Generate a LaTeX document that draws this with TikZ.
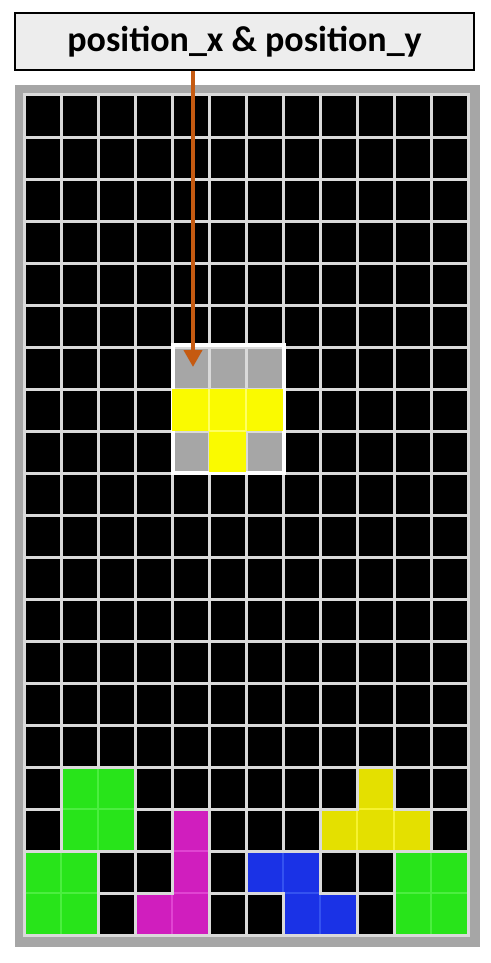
\documentclass[tikz,border=0pt]{standalone}
\usepackage{fontspec}
\setmainfont{Carlito}
\usetikzlibrary{arrows.meta}
\definecolor{framegray}{HTML}{A6A6A6}
\definecolor{gridline}{HTML}{DADADA}
\definecolor{labelfill}{HTML}{EDEDED}
\definecolor{arroworange}{HTML}{C55A11}
\definecolor{pgreen}{HTML}{28E41A}
\definecolor{pgreenl}{HTML}{4CEE40}
\definecolor{pmag}{HTML}{D01EBE}
\definecolor{pmagl}{HTML}{E044D2}
\definecolor{pblue}{HTML}{1A32E6}
\definecolor{pbluel}{HTML}{3452F0}
\definecolor{pyel}{HTML}{E4E000}
\definecolor{pyell}{HTML}{F6F230}
\definecolor{tyel}{HTML}{FAFA00}
\definecolor{tyell}{HTML}{FFFF60}
\tikzset{
  gridln/.style={draw=gridline, line width=3pt},
  labelbox/.style={draw=black, line width=1.5pt, fill=labelfill, minimum width=459pt, minimum height=57pt, inner sep=0pt, font=\fontsize{36}{43}\selectfont\bfseries},
  pointer/.style={draw=arroworange, line width=4pt, -{Triangle[width=18pt,length=17pt]}},
  selframe/.style={draw=white, line width=4pt},
  inline/.style={line width=1.2pt},
}
% cell interior fill: col, row, colour
\newcommand\pcell[3]{\fill[#3] ({24+37*#1+1.5},{95+42*#2+1.5}) rectangle ({24+37*#1+35.5},{95+42*#2+40.5});}
% vertical internal edge right of cell (col,row): main, light
\newcommand\pedgev[4]{\fill[#3] ({24+37*#1+35},{95+42*#2+1.5}) rectangle ({24+37*#1+39},{95+42*#2+40.5});
  \draw[#4, inline] ({24+37*(#1+1)},{95+42*#2+1.5}) -- ({24+37*(#1+1)},{95+42*#2+40.5});}
% horizontal internal edge below cell (col,row): main, light
\newcommand\pedgeh[4]{\fill[#3] ({24+37*#1+1.5},{95+42*#2+40}) rectangle ({24+37*#1+35.5},{95+42*#2+44});
  \draw[#4, inline] ({24+37*#1+1.5},{95+42*(#2+1)}) -- ({24+37*#1+35.5},{95+42*(#2+1)});}
% 2x2 block with top-left cell (col,row): main, light
\newcommand\pblock[4]{\fill[#3] ({24+37*#1+1.5},{95+42*#2+1.5}) rectangle ({24+37*#1+72.5},{95+42*#2+82.5});
  \draw[#4, inline] ({24+37*(#1+1)},{95+42*#2+1.5}) -- ({24+37*(#1+1)},{95+42*#2+82.5});
  \draw[#4, inline] ({24+37*#1+1.5},{95+42*(#2+1)}) -- ({24+37*#1+72.5},{95+42*(#2+1)});}
\begin{document}
\begin{tikzpicture}[x=1pt, y=-1pt]
\useasboundingbox (0,0) rectangle (490,963);
% outer gray frame and black board
\fill[framegray] (15,85) rectangle (480,947);
\fill[black] (23,94) rectangle (469,936);
\foreach \i in {0,...,12} \draw[gridln] ({24+37*\i},93.5) -- ({24+37*\i},936.5);
\foreach \j in {0,...,20} \draw[gridln] (22.5,{95+42*\j}) -- (469.5,{95+42*\j});
% falling piece area
\foreach \c/\r in {4/6,5/6,6/6,4/8,6/8} {\pcell{\c}{\r}{framegray}}
\draw[selframe] (172.5,345) rectangle (283.5,473);
\fill[tyel] (172,389) rectangle (283,431);
\fill[tyel] (209,431) rectangle (246,472);
\draw[tyell, inline] (209,389) -- (209,431);
\draw[tyell, inline] (246,389) -- (246,431);
\draw[tyell, inline] (209,431) -- (246,431);
% bottom pieces
\pblock{1}{16}{pgreen}{pgreenl}
\pblock{0}{18}{pgreen}{pgreenl}
\pblock{10}{18}{pgreen}{pgreenl}
\foreach \c/\r in {4/17,4/18,4/19,3/19} {\pcell{\c}{\r}{pmag}}
\pedgeh{4}{17}{pmag}{pmagl}
\pedgeh{4}{18}{pmag}{pmagl}
\pedgev{3}{19}{pmag}{pmagl}
\foreach \c/\r in {6/18,7/18,7/19,8/19} {\pcell{\c}{\r}{pblue}}
\pedgev{6}{18}{pblue}{pbluel}
\pedgeh{7}{18}{pblue}{pbluel}
\pedgev{7}{19}{pblue}{pbluel}
\foreach \c/\r in {9/16,8/17,9/17,10/17} {\pcell{\c}{\r}{pyel}}
\pedgeh{9}{16}{pyel}{pyell}
\pedgev{8}{17}{pyel}{pyell}
\pedgev{9}{17}{pyel}{pyell}
% label and pointer
\node[labelbox] (label) at (244.5,41.5) {\raisebox{-3pt}{position\_x \& position\_y}};
\coordinate (tip) at (193,367);
\draw[pointer] (label.south -| tip) -- (tip);
\end{tikzpicture}
\end{document}
